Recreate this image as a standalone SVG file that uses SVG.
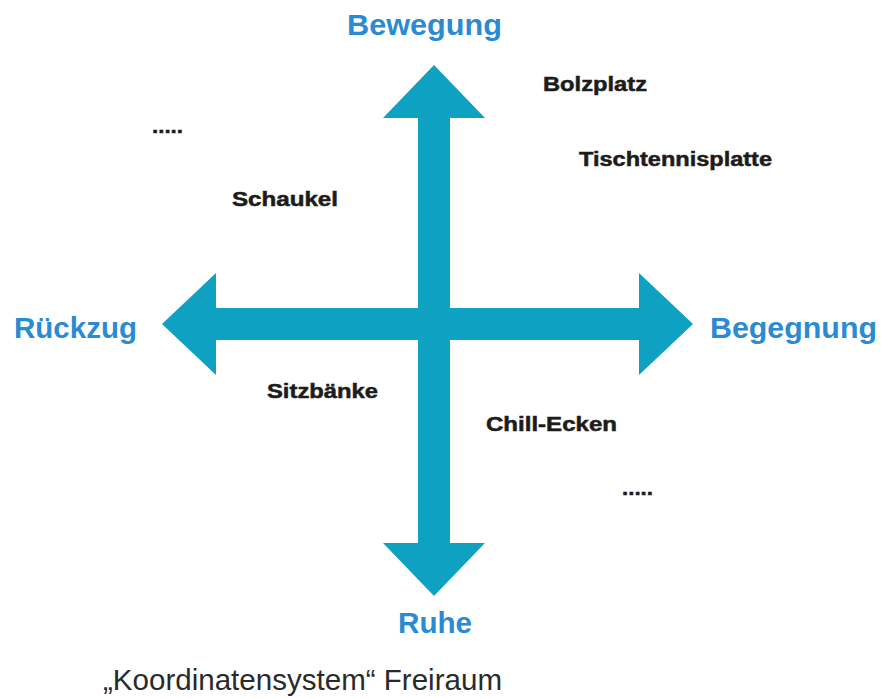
<svg xmlns="http://www.w3.org/2000/svg" width="881" height="699" viewBox="0 0 881 699">
<style>
.axis{fill:#0ea1c1}
.pole{font-family:"Liberation Sans",Arial,sans-serif;font-weight:bold;font-size:29px;fill:#2b8bd2}
.item{font-family:"Liberation Sans",Arial,sans-serif;font-weight:bold;font-size:20px;fill:#1c1c1c;stroke:#1c1c1c;stroke-width:0.5px}
.cap{font-family:"Liberation Sans",Arial,sans-serif;font-size:29px;fill:#2a2a2a}
</style>
<rect width="881" height="699" fill="#ffffff"/>
<g id="connectors">
<polygon class="axis" points="434,65 485,118 450,118 450,543 485,543 434,596 383,543 418,543 418,118 383,118"/>
<polygon class="axis" points="162,324 216,273 216,308 639,308 639,273 693,324 639,375 639,340 216,340 216,375"/>
</g>
<g id="bewegung"><text class="pole" x="347" y="35" textLength="155" lengthAdjust="spacingAndGlyphs">Bewegung</text></g>
<g id="begegnung"><text class="pole" x="710" y="338" textLength="167" lengthAdjust="spacingAndGlyphs">Begegnung</text></g>
<g id="rueckzug"><text class="pole" x="14" y="338" textLength="123" lengthAdjust="spacingAndGlyphs">Rückzug</text></g>
<g id="ruhe"><text class="pole" x="398" y="633" textLength="74" lengthAdjust="spacingAndGlyphs">Ruhe</text></g>
<g id="bolzplatz"><text class="item" x="543" y="91" textLength="104" lengthAdjust="spacingAndGlyphs">Bolzplatz</text></g>
<g id="tischtennisplatte"><text class="item" x="579" y="166" textLength="193" lengthAdjust="spacingAndGlyphs">Tischtennisplatte</text></g>
<g id="schaukel"><text class="item" x="232" y="206" textLength="106" lengthAdjust="spacingAndGlyphs">Schaukel</text></g>
<g id="dots1"><text class="item" x="152" y="133" textLength="31" lengthAdjust="spacingAndGlyphs">.....</text></g>
<g id="sitzbaenke"><text class="item" x="267" y="398" textLength="111" lengthAdjust="spacingAndGlyphs">Sitzbänke</text></g>
<g id="chill-ecken"><text class="item" x="486" y="431" textLength="131" lengthAdjust="spacingAndGlyphs">Chill-Ecken</text></g>
<g id="dots2"><text class="item" x="622" y="495" textLength="31" lengthAdjust="spacingAndGlyphs">.....</text></g>
<g id="caption"><text class="cap" x="103" y="690" textLength="399" lengthAdjust="spacingAndGlyphs">„Koordinatensystem“ Freiraum</text></g>
</svg>
